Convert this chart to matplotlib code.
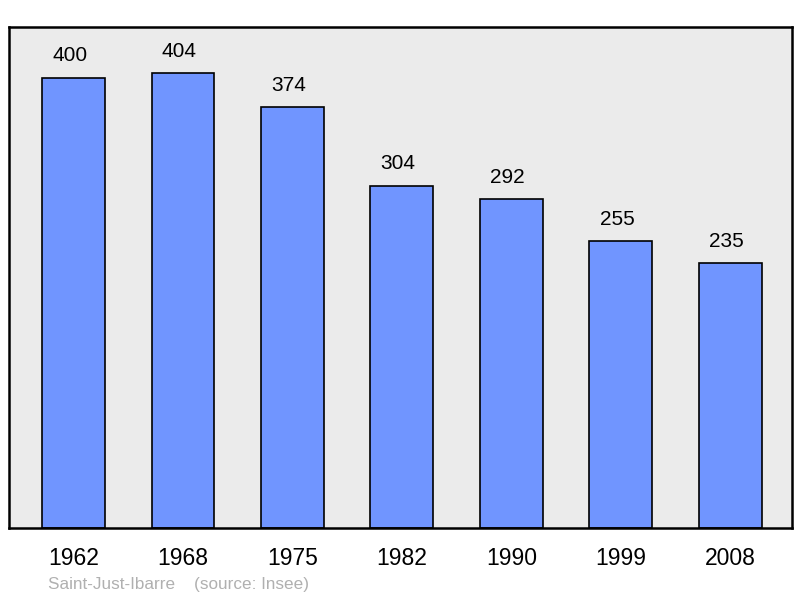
import matplotlib
matplotlib.use("Agg")
import matplotlib.pyplot as plt

years = ["1962", "1968", "1975", "1982", "1990", "1999", "2008"]
population = [400, 404, 374, 304, 292, 255, 235]

plt.rcParams['font.family'] = ['Liberation Sans', 'DejaVu Sans']

fig = plt.figure(figsize=(8, 5.98), dpi=100)
ax = fig.add_axes([9/800, 1 - 528/598, 783/800, 501/598])
ax.set_facecolor("#ebebeb")

x = range(len(years))
ax.bar(x, population, width=0.575, color="#7095ff", edgecolor="black", linewidth=1.2, zorder=2)
for i, v in enumerate(population):
    # labels sit a little left of the bar centre in the original
    ax.text(i - 0.035, v + 11, str(v), ha="center", va="bottom", fontsize=15)

ax.set_xlim(-0.59, 6.565)
ax.set_ylim(0, 445)
ax.set_xticks(list(x))
ax.set_xticklabels(years, fontsize=16.5)
ax.tick_params(axis="x", length=0, pad=14)
ax.set_yticks([])
for s in ax.spines.values():
    s.set_linewidth(1.8)

fig.text(48/800, 1 - 584/598, "Saint-Just-Ibarre    (source: Insee)", color="#b0b0b0",
         fontsize=12.3, va="center", ha="left")

fig.savefig("out.png", dpi=100)
